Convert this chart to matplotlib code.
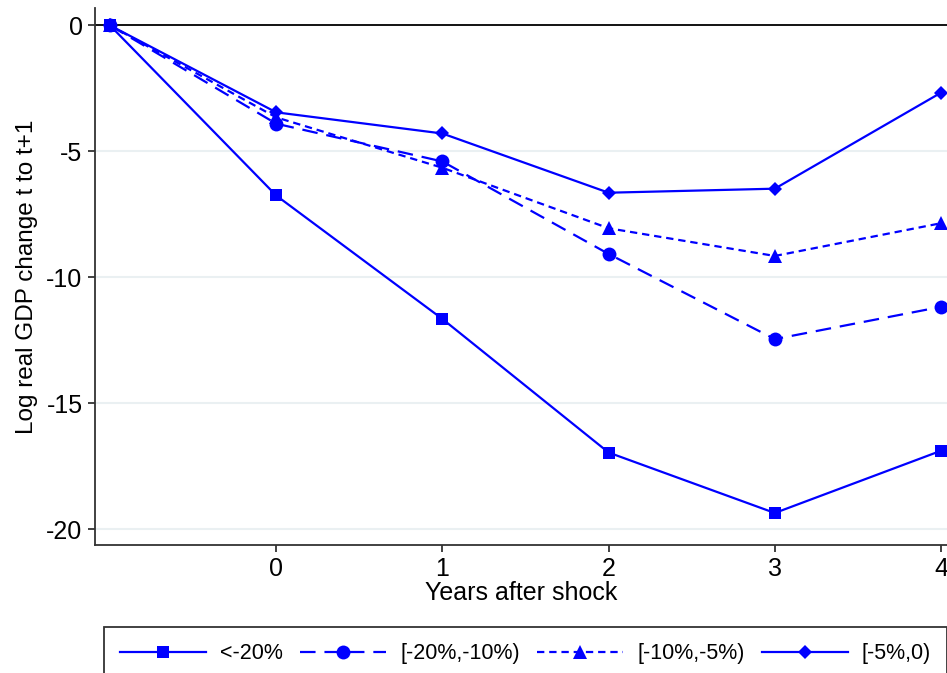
import matplotlib
matplotlib.use("Agg")
import matplotlib.pyplot as plt

plt.rcParams['font.family'] = ['Liberation Sans', 'DejaVu Sans']

years = [-1, 0, 1, 2, 3, 4]
x_ticks = [0, 1, 2, 3, 4]
y_ticks = [0, -5, -10, -15, -20]

labels = ["<-20%", "[-20%,-10%)", "[-10%,-5%)", "[-5%,0)"]
s_lt20 = [0, -6.75, -11.65, -16.95, -19.35, -16.88]
s_20_10 = [0, -3.9, -5.4, -9.07, -12.45, -11.17]
s_10_5 = [0, -3.65, -5.65, -8.05, -9.15, -7.85]
s_5_0 = [0, -3.45, -4.29, -6.64, -6.48, -2.67]

series = [s_lt20, s_20_10, s_10_5, s_5_0]
markers = ['s', 'o', '^', 'D']
msizes = [8.5, 10, 9.5, 7.5]
styles = ['-', (0, (7, 4)), (0, (3.3, 2.2)), '-']

FS = 18
LFS = 15.5

fig = plt.figure(figsize=(9.47, 6.73), dpi=100)
ax = fig.add_axes([95/947, 1-545/673, 1-95/947, (545-8)/673])

for yv in [-5, -10, -15, -20]:
    ax.axhline(yv, color='#eaf0f2', lw=1.5, zorder=0)
ax.axhline(0, color='black', lw=1.3, zorder=1)

blue = '#0000ff'
for vals, lab, m, ms, ls in zip(series, labels, markers, msizes, styles):
    ax.plot(years, vals, color=blue, lw=1.6, ls=ls, marker=m, ms=ms,
            markeredgewidth=0, label=lab, zorder=3, clip_on=False)

ax.set_xlim(-1.09, 4.036)
ax.set_ylim(-20.62, 0.69)
ax.set_xticks(x_ticks)
ax.set_yticks(y_ticks)
ax.set_yticklabels([str(v) for v in y_ticks])
for sp in ['top', 'right']:
    ax.spines[sp].set_visible(False)
for sp in ['left', 'bottom']:
    ax.spines[sp].set_color('#333333')
    ax.spines[sp].set_linewidth(1.3)
ax.tick_params(axis='both', direction='out', length=5, width=1.3,
               color='#333333', labelsize=FS, pad=4)
ax.set_xlabel("Years after shock", fontsize=FS, labelpad=0)
ax.set_ylabel("Log real GDP change t to t+1", fontsize=17.5, labelpad=6)

handles, labs = ax.get_legend_handles_labels()
leg = fig.legend(handles, labs, loc='upper left',
                 bbox_to_anchor=(104/947, 1-628/673, (947-104)/947, 0.001),
                 mode='expand', ncol=4, frameon=True, fancybox=False,
                 edgecolor='black', fontsize=LFS, handlelength=4.0,
                 handletextpad=0.65, borderaxespad=0, borderpad=0.75,
                 columnspacing=1.4)
leg.get_frame().set_linewidth(1.3)

fig.savefig("out.png", dpi=100)
